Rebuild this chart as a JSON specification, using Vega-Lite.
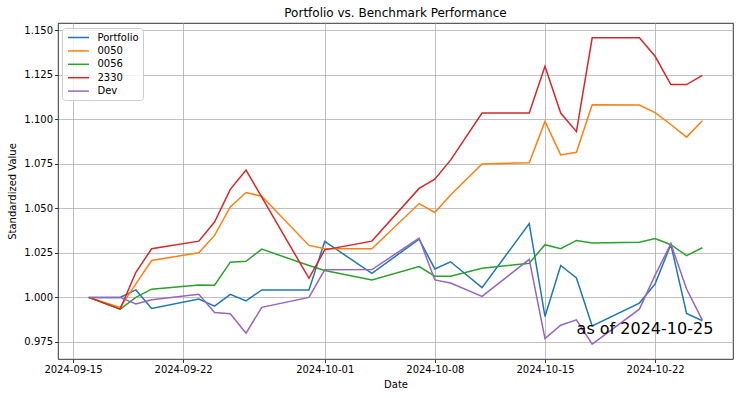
{
  "$schema": "https://vega.github.io/schema/vega-lite/v6.json",
  "width": 675,
  "height": 336,
  "autosize": {"type": "none"},
  "padding": {"left": 58, "top": 23, "right": 7, "bottom": 39},
  "background": "white",
  "title": "Portfolio vs. Benchmark Performance",
  "config": {
    "font": "DejaVu Sans",
    "view": {"stroke": "#000000", "strokeWidth": 0.8},
    "axis": {
      "labelFont": "DejaVu Sans", "titleFont": "DejaVu Sans",
      "labelFontSize": 10, "titleFontSize": 10, "titleFontWeight": "normal",
      "labelColor": "#000000", "titleColor": "#000000",
      "tickColor": "#000000", "tickSize": 3.5, "tickWidth": 0.8,
      "gridColor": "#b0b0b0", "gridWidth": 0.8, "gridOpacity": 1,
      "domain": false, "labelPadding": 2
    },
    "legend": {
      "orient": "none", "legendX": 4, "legendY": 5,
      "strokeColor": "#cccccc", "fillColor": "rgba(255,255,255,0.8)",
      "padding": 3.5, "cornerRadius": 3,
      "labelFont": "DejaVu Sans", "labelFontSize": 10, "labelColor": "#000000",
      "symbolType": "M-2.1,0H2.1", "symbolStrokeWidth": 1.5, "symbolSize": 100,
      "symbolOffset": 7, "rowPadding": 2.4, "labelOffset": 13
    },
    "title": {"font": "DejaVu Sans", "fontSize": 12, "fontWeight": "normal", "color": "#000000", "offset": 3}
  },
  "layer": [
    {
      "data": {"values": [
        {"date": "2024-09-16T00:00:00", "series": "Portfolio", "value": 1.0},
        {"date": "2024-09-18T00:00:00", "series": "Portfolio", "value": 1.0},
        {"date": "2024-09-19T00:00:00", "series": "Portfolio", "value": 1.0042},
        {"date": "2024-09-20T00:00:00", "series": "Portfolio", "value": 0.9938},
        {"date": "2024-09-23T00:00:00", "series": "Portfolio", "value": 0.9991},
        {"date": "2024-09-24T00:00:00", "series": "Portfolio", "value": 0.9951},
        {"date": "2024-09-25T00:00:00", "series": "Portfolio", "value": 1.0017},
        {"date": "2024-09-26T00:00:00", "series": "Portfolio", "value": 0.998},
        {"date": "2024-09-27T00:00:00", "series": "Portfolio", "value": 1.0042},
        {"date": "2024-09-30T00:00:00", "series": "Portfolio", "value": 1.0041},
        {"date": "2024-10-01T00:00:00", "series": "Portfolio", "value": 1.0314},
        {"date": "2024-10-04T00:00:00", "series": "Portfolio", "value": 1.0135},
        {"date": "2024-10-07T00:00:00", "series": "Portfolio", "value": 1.0327},
        {"date": "2024-10-08T00:00:00", "series": "Portfolio", "value": 1.016},
        {"date": "2024-10-09T00:00:00", "series": "Portfolio", "value": 1.02},
        {"date": "2024-10-11T00:00:00", "series": "Portfolio", "value": 1.0055},
        {"date": "2024-10-14T00:00:00", "series": "Portfolio", "value": 1.0414},
        {"date": "2024-10-15T00:00:00", "series": "Portfolio", "value": 0.9893},
        {"date": "2024-10-16T00:00:00", "series": "Portfolio", "value": 1.0179},
        {"date": "2024-10-17T00:00:00", "series": "Portfolio", "value": 1.0109},
        {"date": "2024-10-18T00:00:00", "series": "Portfolio", "value": 0.984},
        {"date": "2024-10-21T00:00:00", "series": "Portfolio", "value": 0.9968},
        {"date": "2024-10-22T00:00:00", "series": "Portfolio", "value": 1.0076},
        {"date": "2024-10-23T00:00:00", "series": "Portfolio", "value": 1.0297},
        {"date": "2024-10-24T00:00:00", "series": "Portfolio", "value": 0.991},
        {"date": "2024-10-25T00:00:00", "series": "Portfolio", "value": 0.9869},
        {"date": "2024-09-16T00:00:00", "series": "0050", "value": 1.0},
        {"date": "2024-09-18T00:00:00", "series": "0050", "value": 0.9944},
        {"date": "2024-09-19T00:00:00", "series": "0050", "value": 1.0076},
        {"date": "2024-09-20T00:00:00", "series": "0050", "value": 1.0207},
        {"date": "2024-09-23T00:00:00", "series": "0050", "value": 1.0251},
        {"date": "2024-09-24T00:00:00", "series": "0050", "value": 1.0348},
        {"date": "2024-09-25T00:00:00", "series": "0050", "value": 1.0508},
        {"date": "2024-09-26T00:00:00", "series": "0050", "value": 1.0589},
        {"date": "2024-09-27T00:00:00", "series": "0050", "value": 1.0568},
        {"date": "2024-09-30T00:00:00", "series": "0050", "value": 1.0292},
        {"date": "2024-10-01T00:00:00", "series": "0050", "value": 1.0273},
        {"date": "2024-10-04T00:00:00", "series": "0050", "value": 1.0273},
        {"date": "2024-10-07T00:00:00", "series": "0050", "value": 1.0527},
        {"date": "2024-10-08T00:00:00", "series": "0050", "value": 1.0477},
        {"date": "2024-10-09T00:00:00", "series": "0050", "value": 1.0575},
        {"date": "2024-10-11T00:00:00", "series": "0050", "value": 1.0749},
        {"date": "2024-10-14T00:00:00", "series": "0050", "value": 1.0756},
        {"date": "2024-10-15T00:00:00", "series": "0050", "value": 1.0988},
        {"date": "2024-10-16T00:00:00", "series": "0050", "value": 1.08},
        {"date": "2024-10-17T00:00:00", "series": "0050", "value": 1.0815},
        {"date": "2024-10-18T00:00:00", "series": "0050", "value": 1.1082},
        {"date": "2024-10-21T00:00:00", "series": "0050", "value": 1.108},
        {"date": "2024-10-22T00:00:00", "series": "0050", "value": 1.1038},
        {"date": "2024-10-23T00:00:00", "series": "0050", "value": 1.0971},
        {"date": "2024-10-24T00:00:00", "series": "0050", "value": 1.09},
        {"date": "2024-10-25T00:00:00", "series": "0050", "value": 1.0992},
        {"date": "2024-09-16T00:00:00", "series": "0056", "value": 1.0},
        {"date": "2024-09-18T00:00:00", "series": "0056", "value": 0.9934},
        {"date": "2024-09-19T00:00:00", "series": "0056", "value": 1.0},
        {"date": "2024-09-20T00:00:00", "series": "0056", "value": 1.0046},
        {"date": "2024-09-23T00:00:00", "series": "0056", "value": 1.007},
        {"date": "2024-09-24T00:00:00", "series": "0056", "value": 1.0068},
        {"date": "2024-09-25T00:00:00", "series": "0056", "value": 1.0198},
        {"date": "2024-09-26T00:00:00", "series": "0056", "value": 1.0203},
        {"date": "2024-09-27T00:00:00", "series": "0056", "value": 1.0271},
        {"date": "2024-09-30T00:00:00", "series": "0056", "value": 1.0179},
        {"date": "2024-10-01T00:00:00", "series": "0056", "value": 1.0151},
        {"date": "2024-10-04T00:00:00", "series": "0056", "value": 1.0098},
        {"date": "2024-10-07T00:00:00", "series": "0056", "value": 1.0173},
        {"date": "2024-10-08T00:00:00", "series": "0056", "value": 1.0119},
        {"date": "2024-10-09T00:00:00", "series": "0056", "value": 1.0119},
        {"date": "2024-10-11T00:00:00", "series": "0056", "value": 1.0164},
        {"date": "2024-10-14T00:00:00", "series": "0056", "value": 1.0192},
        {"date": "2024-10-15T00:00:00", "series": "0056", "value": 1.0296},
        {"date": "2024-10-16T00:00:00", "series": "0056", "value": 1.0273},
        {"date": "2024-10-17T00:00:00", "series": "0056", "value": 1.032},
        {"date": "2024-10-18T00:00:00", "series": "0056", "value": 1.0305},
        {"date": "2024-10-21T00:00:00", "series": "0056", "value": 1.031},
        {"date": "2024-10-22T00:00:00", "series": "0056", "value": 1.033},
        {"date": "2024-10-23T00:00:00", "series": "0056", "value": 1.0296},
        {"date": "2024-10-24T00:00:00", "series": "0056", "value": 1.0235},
        {"date": "2024-10-25T00:00:00", "series": "0056", "value": 1.0279},
        {"date": "2024-09-16T00:00:00", "series": "2330", "value": 1.0},
        {"date": "2024-09-18T00:00:00", "series": "2330", "value": 0.9934},
        {"date": "2024-09-19T00:00:00", "series": "2330", "value": 1.0141},
        {"date": "2024-09-20T00:00:00", "series": "2330", "value": 1.0273},
        {"date": "2024-09-23T00:00:00", "series": "2330", "value": 1.0316},
        {"date": "2024-09-24T00:00:00", "series": "2330", "value": 1.0423},
        {"date": "2024-09-25T00:00:00", "series": "2330", "value": 1.0607},
        {"date": "2024-09-26T00:00:00", "series": "2330", "value": 1.0715},
        {"date": "2024-09-27T00:00:00", "series": "2330", "value": 1.0563},
        {"date": "2024-09-30T00:00:00", "series": "2330", "value": 1.0107},
        {"date": "2024-10-01T00:00:00", "series": "2330", "value": 1.0267},
        {"date": "2024-10-04T00:00:00", "series": "2330", "value": 1.0316},
        {"date": "2024-10-07T00:00:00", "series": "2330", "value": 1.0612},
        {"date": "2024-10-08T00:00:00", "series": "2330", "value": 1.0664},
        {"date": "2024-10-09T00:00:00", "series": "2330", "value": 1.0771},
        {"date": "2024-10-11T00:00:00", "series": "2330", "value": 1.1035},
        {"date": "2024-10-14T00:00:00", "series": "2330", "value": 1.1035},
        {"date": "2024-10-15T00:00:00", "series": "2330", "value": 1.1298},
        {"date": "2024-10-16T00:00:00", "series": "2330", "value": 1.1035},
        {"date": "2024-10-17T00:00:00", "series": "2330", "value": 1.0931},
        {"date": "2024-10-18T00:00:00", "series": "2330", "value": 1.1458},
        {"date": "2024-10-21T00:00:00", "series": "2330", "value": 1.1458},
        {"date": "2024-10-22T00:00:00", "series": "2330", "value": 1.1354},
        {"date": "2024-10-23T00:00:00", "series": "2330", "value": 1.1195},
        {"date": "2024-10-24T00:00:00", "series": "2330", "value": 1.1195},
        {"date": "2024-10-25T00:00:00", "series": "2330", "value": 1.1247},
        {"date": "2024-09-16T00:00:00", "series": "Dev", "value": 1.0},
        {"date": "2024-09-18T00:00:00", "series": "Dev", "value": 1.0},
        {"date": "2024-09-19T00:00:00", "series": "Dev", "value": 0.9963},
        {"date": "2024-09-20T00:00:00", "series": "Dev", "value": 0.9987},
        {"date": "2024-09-23T00:00:00", "series": "Dev", "value": 1.0017},
        {"date": "2024-09-24T00:00:00", "series": "Dev", "value": 0.9915},
        {"date": "2024-09-25T00:00:00", "series": "Dev", "value": 0.9908},
        {"date": "2024-09-26T00:00:00", "series": "Dev", "value": 0.9799},
        {"date": "2024-09-27T00:00:00", "series": "Dev", "value": 0.9944},
        {"date": "2024-09-30T00:00:00", "series": "Dev", "value": 1.0},
        {"date": "2024-10-01T00:00:00", "series": "Dev", "value": 1.0155},
        {"date": "2024-10-04T00:00:00", "series": "Dev", "value": 1.0156},
        {"date": "2024-10-07T00:00:00", "series": "Dev", "value": 1.0333},
        {"date": "2024-10-08T00:00:00", "series": "Dev", "value": 1.0098},
        {"date": "2024-10-09T00:00:00", "series": "Dev", "value": 1.0081},
        {"date": "2024-10-11T00:00:00", "series": "Dev", "value": 1.0006},
        {"date": "2024-10-14T00:00:00", "series": "Dev", "value": 1.0213},
        {"date": "2024-10-15T00:00:00", "series": "Dev", "value": 0.9769},
        {"date": "2024-10-16T00:00:00", "series": "Dev", "value": 0.9844},
        {"date": "2024-10-17T00:00:00", "series": "Dev", "value": 0.9874},
        {"date": "2024-10-18T00:00:00", "series": "Dev", "value": 0.9737},
        {"date": "2024-10-21T00:00:00", "series": "Dev", "value": 0.9934},
        {"date": "2024-10-22T00:00:00", "series": "Dev", "value": 1.0125},
        {"date": "2024-10-23T00:00:00", "series": "Dev", "value": 1.0301},
        {"date": "2024-10-24T00:00:00", "series": "Dev", "value": 1.0047},
        {"date": "2024-10-25T00:00:00", "series": "Dev", "value": 0.9872}
      ]},
      "mark": {"type": "line", "strokeWidth": 1.5},
      "encoding": {
        "x": {
          "field": "date", "type": "temporal", "title": "Date",
          "scale": {"domain": ["2024-09-14T01:12:00", "2024-10-26T22:48:00"]},
          "axis": {
            "values": [
              {"year": 2024, "month": 9, "date": 15},
              {"year": 2024, "month": 9, "date": 22},
              {"year": 2024, "month": 10, "date": 1},
              {"year": 2024, "month": 10, "date": 8},
              {"year": 2024, "month": 10, "date": 15},
              {"year": 2024, "month": 10, "date": 22}
            ],
            "format": "%Y-%m-%d", "labelFlush": false, "labelOverlap": false, "titlePadding": 5
          }
        },
        "y": {
          "field": "value", "type": "quantitative", "title": "Standardized Value",
          "scale": {"domain": [0.9654, 1.1541], "nice": false, "zero": false},
          "axis": {
            "values": [0.975, 1.0, 1.025, 1.05, 1.075, 1.1, 1.125, 1.15],
            "format": ".3f", "titlePadding": 6
          }
        },
        "color": {
          "field": "series", "type": "nominal",
          "scale": {
            "domain": ["Portfolio", "0050", "0056", "2330", "Dev"],
            "range": ["#1f77b4", "#ff7f0e", "#2ca02c", "#d62728", "#9467bd"]
          },
          "legend": {"title": null}
        }
      }
    },
    {
      "data": {"values": [{"date": "2024-10-25T00:00:00", "value": 0.9797, "label": "as of 2024-10-25"}]},
      "mark": {"type": "text", "fontSize": 16, "align": "right", "baseline": "alphabetic", "dx": 11, "font": "DejaVu Sans", "color": "#000000"},
      "encoding": {
        "x": {"field": "date", "type": "temporal"},
        "y": {"field": "value", "type": "quantitative"},
        "text": {"field": "label"}
      }
    }
  ]
}
